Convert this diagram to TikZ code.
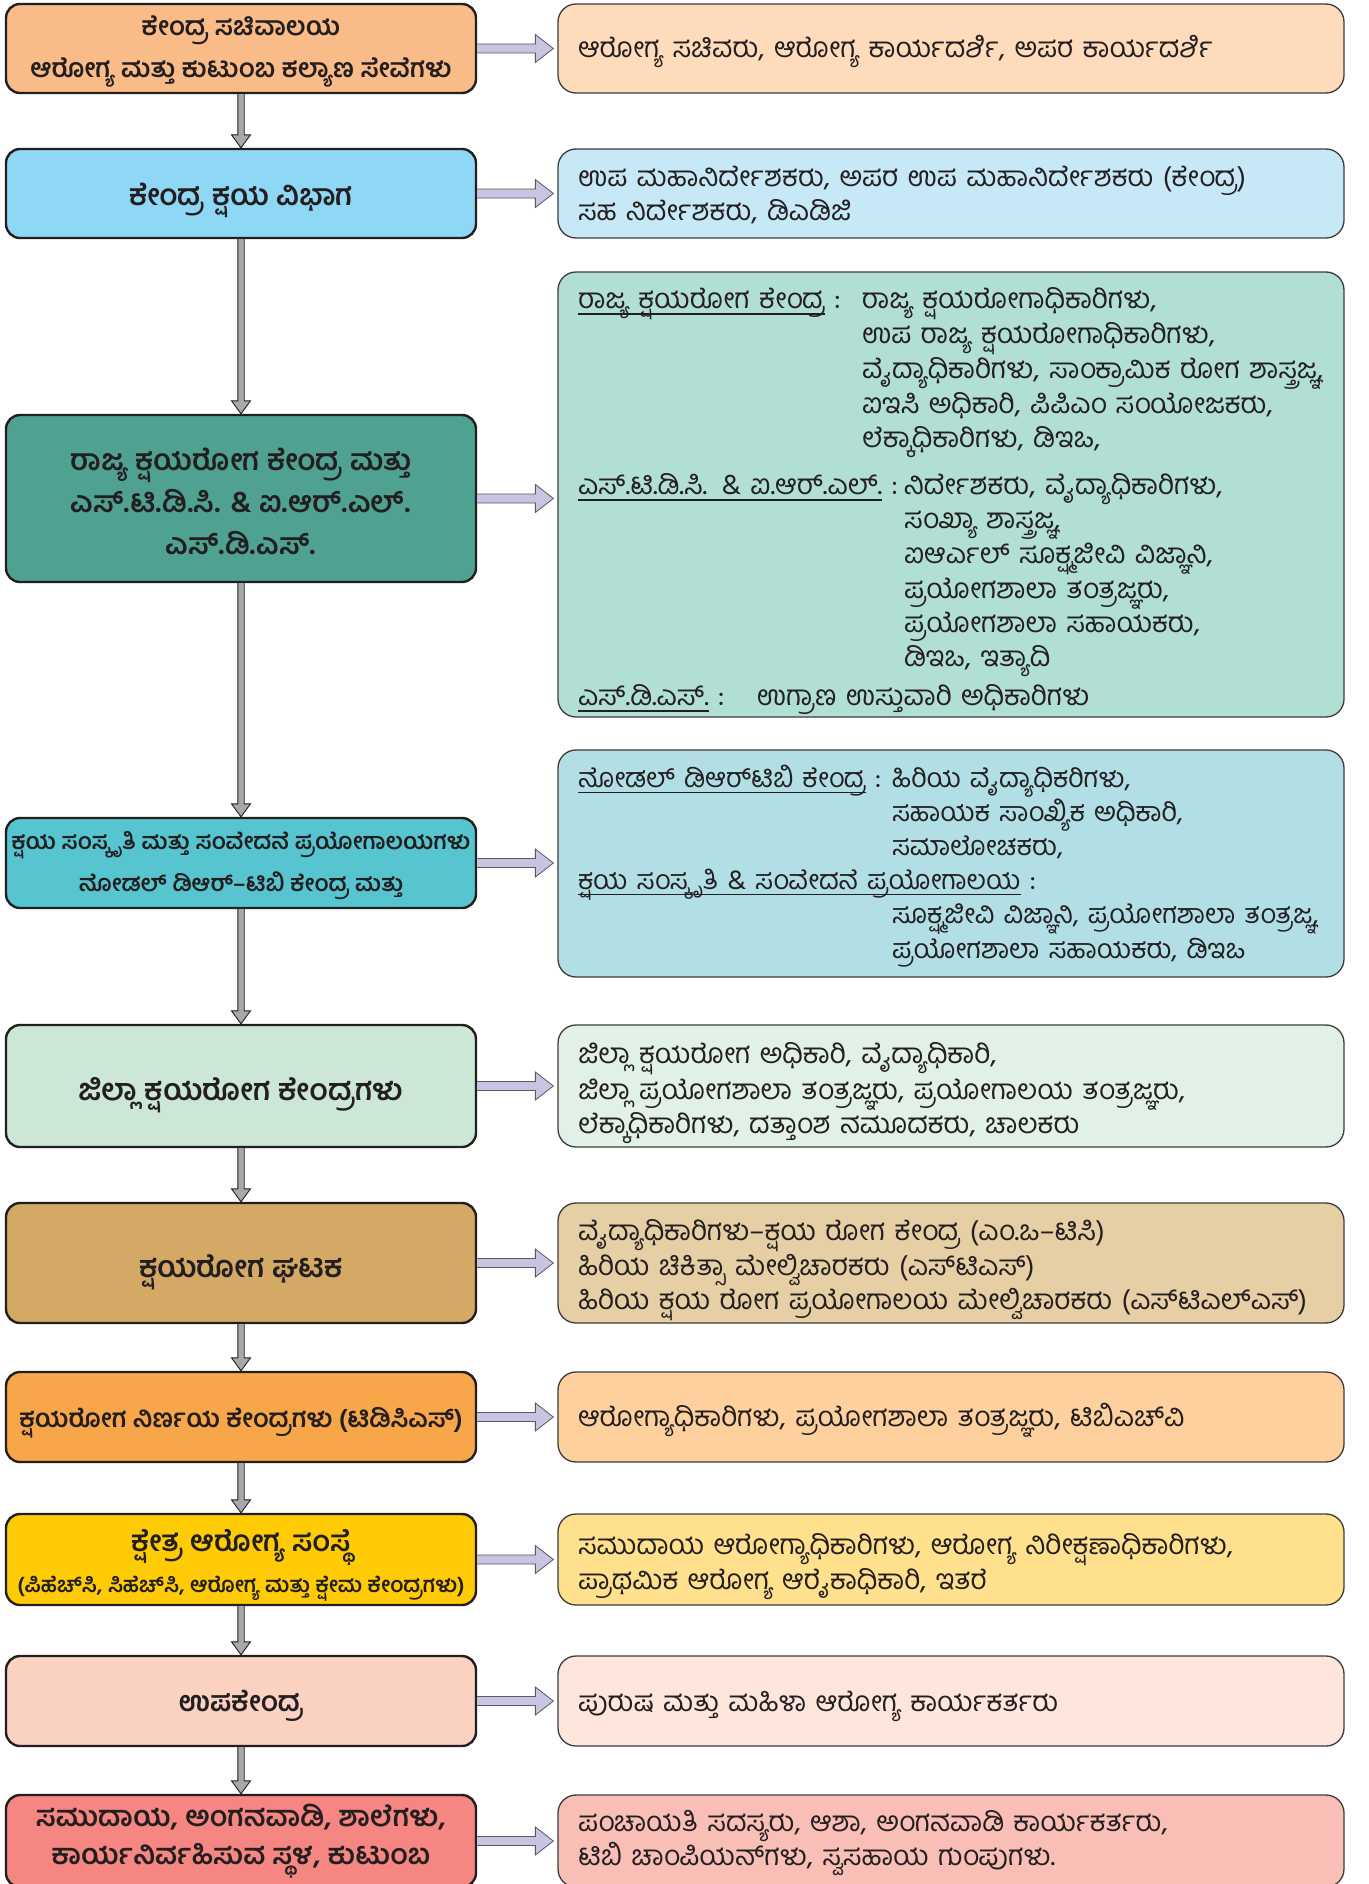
\documentclass[tikz,border=0pt]{standalone}
\usepackage{fontspec}
\newfontfamily\kn[Script=Kannada]{Hind Mysuru}
\usetikzlibrary{calc}
\definecolor{ink}{HTML}{231F20}
\definecolor{rline}{HTML}{3C3C3C}
\definecolor{lA}{HTML}{F9BB87}\definecolor{rA}{HTML}{FDDBBB}
\definecolor{lB}{HTML}{8ED8F5}\definecolor{rB}{HTML}{C6E8F7}
\definecolor{lC}{HTML}{4FA291}\definecolor{rC}{HTML}{B2DFD4}
\definecolor{lD}{HTML}{56C5D0}\definecolor{rD}{HTML}{B1DFE5}
\definecolor{lE}{HTML}{CCE7D6}\definecolor{rE}{HTML}{E2F1E7}
\definecolor{lF}{HTML}{D3A965}\definecolor{rF}{HTML}{E7CFA5}
\definecolor{lG}{HTML}{F8A64A}\definecolor{rG}{HTML}{FDD09D}
\definecolor{lH}{HTML}{FFCB05}\definecolor{rH}{HTML}{FFE08D}
\definecolor{lI}{HTML}{FBD1C1}\definecolor{rI}{HTML}{FEE6DC}
\definecolor{lJ}{HTML}{F58681}\definecolor{rJ}{HTML}{F9BEB6}
\definecolor{darrfill}{HTML}{A6A8AB}
\definecolor{rarrfill}{HTML}{C7C5E3}
\definecolor{rarrline}{HTML}{58595B}
\newcommand\kul[1]{\setbox0=\hbox{#1}\rlap{\rule[-6pt]{\wd0}{1.5pt}}\box0}
\newcommand\lab[2]{\makebox[#1][l]{\kul{#2}\hspace{9pt}:}}
\newcommand\ltxt[2][-6pt]{\raisebox{#1}[\height][\depth]{\begin{tabular}{@{}c@{}}#2\end{tabular}}}
\newcommand\rtxt[2][-6pt]{\raisebox{#1}[\height][\depth]{\begin{tabular}{@{}l@{}}#2\end{tabular}}}
\newcommand\downarr[2]{%
  \filldraw[darr] let \p1=(#1.south), \p2=(#2.north) in
   (\x1-3.2pt,\y1) -- (\x1-3.2pt,\y2+13pt) -- (\x1-9.5pt,\y2+13pt) -- (\x1,\y2)
   -- (\x1+9.5pt,\y2+13pt) -- (\x1+3.2pt,\y2+13pt) -- (\x1+3.2pt,\y1);}
\newcommand\rightarr[2]{%
  \filldraw[rarr] let \p1=(#1.east), \p2=(#2.west) in
   (\x1,\y1+4.5pt) -- (\x2-22pt,\y1+4.5pt) -- (\x2-22pt,\y1+14pt) -- (\x2-4pt,\y1)
   -- (\x2-22pt,\y1-14pt) -- (\x2-22pt,\y1-4.5pt) -- (\x1,\y1-4.5pt);}
\newcommand\fs[1]{\fontsize{#1}{42}\selectfont}
\tikzset{
  lbox/.style={draw=ink, line width=2.4pt, rounded corners=14pt, minimum width=470pt,
    align=center, inner sep=0pt, text=ink, font=\kn\bfseries\fontsize{28}{42}\selectfont},
  rbox/.style={draw=rline, line width=1.3pt, rounded corners=18pt, text width=746pt,
    inner xsep=20pt, inner ysep=0pt, align=left, text=ink, font=\kn\fontsize{28}{34}\selectfont},
  darr/.style={fill=darrfill, draw=ink, line width=0.9pt},
  rarr/.style={fill=rarrfill, draw=rarrline, line width=0.8pt}
}
\begin{document}
\begin{tikzpicture}[x=1pt,y=-1pt]
\fill[white] (0,0) rectangle (1368,1884);
\useasboundingbox (0,0) rectangle (1368,1884);
% left column
\node[lbox, fill=lA, minimum height=89pt, font=\kn\bfseries\fs{26}] (L1) at (241,48.5) {\ltxt[0pt]{ಕೇಂದ್ರ ಸಚಿವಾಲಯ\\ಆರೋಗ್ಯ ಮತ್ತು ಕುಟುಂಬ ಕಲ್ಯಾಣ ಸೇವೆಗಳು}};
\node[lbox, fill=lB, minimum height=89pt, font=\kn\bfseries\fs{29.5}] (L2) at (241,193.5) {\ltxt[-3.5pt]{ಕೇಂದ್ರ ಕ್ಷಯ ವಿಭಾಗ}};
\node[lbox, fill=lC, minimum height=167pt, font=\kn\bfseries\fs{29.5}] (L3) at (241,498.5) {\ltxt{ರಾಜ್ಯ ಕ್ಷಯರೋಗ ಕೇಂದ್ರ ಮತ್ತು\\ಎಸ್.ಟಿ.ಡಿ.ಸಿ. \& ಐ.ಆರ್.ಎಲ್.\\ಎಸ್.ಡಿ.ಎಸ್.}};
\node[lbox, fill=lD, minimum height=90pt, font=\kn\bfseries\fs{23}] (L4) at (241,863) {\ltxt[1pt]{ಕ್ಷಯ ಸಂಸ್ಕೃತಿ ಮತ್ತು ಸಂವೇದನೆ ಪ್ರಯೋಗಾಲಯಗಳು\\ನೋಡಲ್ ಡಿಆರ್–ಟಿಬಿ ಕೇಂದ್ರ ಮತ್ತು}};
\node[lbox, fill=lE, minimum height=122pt, font=\kn\bfseries\fs{30}] (L5) at (241,1086) {\ltxt{ಜಿಲ್ಲಾ ಕ್ಷಯರೋಗ ಕೇಂದ್ರಗಳು}};
\node[lbox, fill=lF, minimum height=120pt, font=\kn\bfseries\fs{30}] (L6) at (241,1263) {\ltxt{ಕ್ಷಯರೋಗ ಘಟಕ}};
\node[lbox, fill=lG, minimum height=90pt, font=\kn\bfseries\fs{25.5}] (L7) at (241,1417) {\ltxt[-2.5pt]{ಕ್ಷಯರೋಗ ನಿರ್ಣಯ ಕೇಂದ್ರಗಳು (ಟಿಡಿಸಿಎಸ್)}};
\node[lbox, fill=lH, minimum height=91pt, font=\kn\bfseries\fontsize{29}{38}\selectfont] (L8) at (241,1559.5) {\ltxt[-5pt]{ಕ್ಷೇತ್ರ ಆರೋಗ್ಯ ಸಂಸ್ಥೆ\\{\fontsize{21.5}{38}\selectfont (ಪಿಹೆಚ್^^^^200cಸಿ, ಸಿಹೆಚ್^^^^200cಸಿ, ಆರೋಗ್ಯ ಮತ್ತು ಕ್ಷೇಮ ಕೇಂದ್ರಗಳು)}}};
\node[lbox, fill=lI, minimum height=90pt, font=\kn\bfseries\fs{28}] (L9) at (241,1701) {\ltxt[-2.5pt]{ಉಪಕೇಂದ್ರ}};
\node[lbox, fill=lJ, minimum height=92pt, font=\kn\bfseries\fontsize{28.5}{38}\selectfont] (L10) at (241,1841) {\ltxt[2pt]{ಸಮುದಾಯ, ಅಂಗನವಾಡಿ, ಶಾಲೆಗಳು,\\ಕಾರ್ಯನಿರ್ವಹಿಸುವ ಸ್ಥಳ, ಕುಟುಂಬ}};
% right column
\node[rbox, fill=rA, minimum height=89pt] (R1) at (951,48.5) {\rtxt[-2.5pt]{ಆರೋಗ್ಯ ಸಚಿವರು, ಆರೋಗ್ಯ ಕಾರ್ಯದರ್ಶಿ, ಅಪರ ಕಾರ್ಯದರ್ಶಿ}};
\node[rbox, fill=rB, minimum height=89pt] (R2) at (951,193.5) {\rtxt[-3.5pt]{ಉಪ ಮಹಾನಿರ್ದೇಶಕರು, ಅಪರ ಉಪ ಮಹಾನಿರ್ದೇಶಕರು (ಕೇಂದ್ರ)\\ಸಹ ನಿರ್ದೇಶಕರು, ಡಿಎಡಿಜಿ}};
\node[rbox, fill=rC, minimum height=445pt] (R3) at (951,494.5) {\rtxt{%
\lab{284pt}{ರಾಜ್ಯ ಕ್ಷಯರೋಗ ಕೇಂದ್ರ}ರಾಜ್ಯ ಕ್ಷಯರೋಗಾಧಿಕಾರಿಗಳು,\\
\hspace*{284pt}ಉಪ ರಾಜ್ಯ ಕ್ಷಯರೋಗಾಧಿಕಾರಿಗಳು,\\
\hspace*{284pt}ವೈದ್ಯಾಧಿಕಾರಿಗಳು, ಸಾಂಕ್ರಾಮಿಕ ರೋಗ ಶಾಸ್ತ್ರಜ್ಞ,\\
\hspace*{284pt}ಐಇಸಿ ಅಧಿಕಾರಿ, ಪಿಪಿಎಂ ಸಂಯೋಜಕರು,\\
\hspace*{284pt}ಲೆಕ್ಕಾಧಿಕಾರಿಗಳು, ಡಿಇಒ,\\[13pt]
\lab{326pt}{ಎಸ್.ಟಿ.ಡಿ.ಸಿ. \& ಐ.ಆರ್.ಎಲ್.}ನಿರ್ದೇಶಕರು, ವೈದ್ಯಾಧಿಕಾರಿಗಳು,\\
\hspace*{326pt}ಸಂಖ್ಯಾ ಶಾಸ್ತ್ರಜ್ಞ,\\
\hspace*{326pt}ಐಆರ್ಎಲ್ ಸೂಕ್ಷ್ಮಜೀವಿ ವಿಜ್ಞಾನಿ,\\
\hspace*{326pt}ಪ್ರಯೋಗಶಾಲಾ ತಂತ್ರಜ್ಞರು,\\
\hspace*{326pt}ಪ್ರಯೋಗಶಾಲಾ ಸಹಾಯಕರು,\\
\hspace*{326pt}ಡಿಇಒ, ಇತ್ಯಾದಿ\\[5pt]
\lab{179pt}{ಎಸ್.ಡಿ.ಎಸ್.}ಉಗ್ರಾಣ ಉಸ್ತುವಾರಿ ಅಧಿಕಾರಿಗಳು}};
\node[rbox, fill=rD, minimum height=227pt, font=\kn\fontsize{27}{34}\selectfont] (R4) at (951,863.5) {\rtxt[-2.5pt]{%
\lab{314pt}{ನೋಡಲ್ ಡಿಆರ್^^^^200cಟಿಬಿ ಕೇಂದ್ರ}ಹಿರಿಯ ವೈದ್ಯಾಧಿಕರಿಗಳು,\\
\hspace*{314pt}ಸಹಾಯಕ ಸಾಂಖ್ಯಿಕ ಅಧಿಕಾರಿ,\\
\hspace*{314pt}ಸಮಾಲೋಚಕರು,\\
\kul{ಕ್ಷಯ ಸಂಸ್ಕೃತಿ \& ಸಂವೇದನೆ ಪ್ರಯೋಗಾಲಯ}\hspace{9pt}:\\
\hspace*{314pt}ಸೂಕ್ಷ್ಮಜೀವಿ ವಿಜ್ಞಾನಿ, ಪ್ರಯೋಗಶಾಲಾ ತಂತ್ರಜ್ಞ,\\
\hspace*{314pt}ಪ್ರಯೋಗಶಾಲಾ ಸಹಾಯಕರು, ಡಿಇಒ}};
\node[rbox, fill=rE, minimum height=122pt] (R5) at (951,1086) {\rtxt{ಜಿಲ್ಲಾ ಕ್ಷಯರೋಗ ಅಧಿಕಾರಿ, ವೈದ್ಯಾಧಿಕಾರಿ,\\ಜಿಲ್ಲಾ ಪ್ರಯೋಗಶಾಲಾ ತಂತ್ರಜ್ಞರು, ಪ್ರಯೋಗಾಲಯ ತಂತ್ರಜ್ಞರು,\\ಲೆಕ್ಕಾಧಿಕಾರಿಗಳು, ದತ್ತಾಂಶ ನಮೂದಕರು, ಚಾಲಕರು}};
\node[rbox, fill=rF, minimum height=120pt] (R6) at (951,1263) {\rtxt{ವೈದ್ಯಾಧಿಕಾರಿಗಳು–ಕ್ಷಯ ರೋಗ ಕೇಂದ್ರ (ಎಂ.ಒ–ಟಿಸಿ)\\ಹಿರಿಯ ಚಿಕಿತ್ಸಾ ಮೇಲ್ವಿಚಾರಕರು (ಎಸ್^^^^200cಟಿಎಸ್)\\ಹಿರಿಯ ಕ್ಷಯ ರೋಗ ಪ್ರಯೋಗಾಲಯ ಮೇಲ್ವಿಚಾರಕರು (ಎಸ್^^^^200cಟಿಎಲ್ಎಸ್)}};
\node[rbox, fill=rG, minimum height=90pt] (R7) at (951,1417) {\rtxt[-2.5pt]{ಆರೋಗ್ಯಾಧಿಕಾರಿಗಳು, ಪ್ರಯೋಗಶಾಲಾ ತಂತ್ರಜ್ಞರು, ಟಿಬಿಎಚ್^^^^200cವಿ}};
\node[rbox, fill=rH, minimum height=91pt] (R8) at (951,1559.5) {\rtxt{ಸಮುದಾಯ ಆರೋಗ್ಯಾಧಿಕಾರಿಗಳು, ಆರೋಗ್ಯ ನಿರೀಕ್ಷಣಾಧಿಕಾರಿಗಳು,\\ಪ್ರಾಥಮಿಕ ಆರೋಗ್ಯ ಆರೈಕಾಧಿಕಾರಿ, ಇತರೆ}};
\node[rbox, fill=rI, minimum height=90pt] (R9) at (951,1701) {\rtxt[-4pt]{ಪುರುಷ ಮತ್ತು ಮಹಿಳಾ ಆರೋಗ್ಯ ಕಾರ್ಯಕರ್ತರು}};
\node[rbox, fill=rJ, minimum height=92pt] (R10) at (951,1841) {\rtxt[-1pt]{ಪಂಚಾಯತಿ ಸದಸ್ಯರು, ಆಶಾ, ಅಂಗನವಾಡಿ ಕಾರ್ಯಕರ್ತರು,\\ಟಿಬಿ ಚಾಂಪಿಯನ್^^^^200cಗಳು, ಸ್ವಸಹಾಯ ಗುಂಪುಗಳು.}};
% connectors
\downarr{L1}{L2}\downarr{L2}{L3}\downarr{L3}{L4}\downarr{L4}{L5}\downarr{L5}{L6}
\downarr{L6}{L7}\downarr{L7}{L8}\downarr{L8}{L9}\downarr{L9}{L10}
\rightarr{L1}{R1}\rightarr{L2}{R2}\rightarr{L3}{R3}\rightarr{L4}{R4}\rightarr{L5}{R5}
\rightarr{L6}{R6}\rightarr{L7}{R7}\rightarr{L8}{R8}\rightarr{L9}{R9}\rightarr{L10}{R10}
\end{tikzpicture}
\end{document}
